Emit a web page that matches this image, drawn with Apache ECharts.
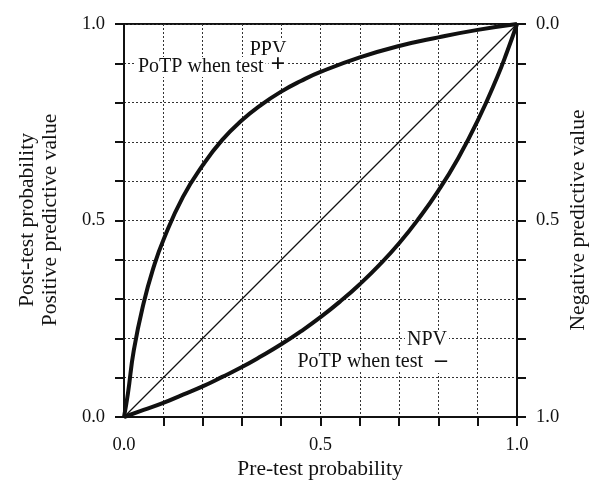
<!DOCTYPE html>
<html>
<head>
<meta charset="utf-8">
<script src="https://cdn.jsdelivr.net/npm/echarts@6/dist/echarts.min.js"></script>
<style>
  html, body { margin: 0; padding: 0; background: #fff; }
  #chart { width: 592px; height: 484px; }
</style>
</head>
<body>
<div id="chart"></div>
<script>
// pre-test probability vs post-test probability
const ppvPre = [0, 0.01, 0.025, 0.05, 0.075, 0.1, 0.15, 0.2, 0.25, 0.3, 0.35, 0.4, 0.45, 0.5, 0.6, 0.7, 0.8, 0.9, 1.0];
const ppvPost = [0, 0.06, 0.17, 0.29, 0.38, 0.45, 0.56, 0.64, 0.705, 0.755, 0.795, 0.828, 0.855, 0.878, 0.915, 0.944, 0.966, 0.985, 1.0];

const npvPre = [0, 0.05, 0.1, 0.15, 0.2, 0.25, 0.3, 0.35, 0.4, 0.45, 0.5, 0.55, 0.6, 0.65, 0.7, 0.75, 0.8, 0.85, 0.9, 0.95, 0.975, 1.0];
const npvPost = [0, 0.018, 0.036, 0.057, 0.078, 0.102, 0.127, 0.155, 0.185, 0.218, 0.254, 0.294, 0.338, 0.387, 0.442, 0.505, 0.576, 0.658, 0.754, 0.866, 0.93, 1.0];

const diagonal = [[0, 0], [1, 1]];

const tickValues = [0.1, 0.2, 0.3, 0.4, 0.5, 0.6, 0.7, 0.8, 0.9, 1.0];
const allTicks = [0, 0.1, 0.2, 0.3, 0.4, 0.5, 0.6, 0.7, 0.8, 0.9, 1.0];
const labelValues = [0, 0.5, 1.0];

const FONT = '"Liberation Serif", "DejaVu Serif", serif';
const INK = '#111';

const zip = (xs, ys) => xs.map((x, i) => [x, ys[i]]);

const axisBase = {
    type: 'value',
    min: 0,
    max: 1,
    interval: 0.1,
    axisLine: { show: true, lineStyle: { color: INK, width: 2 } },
    axisTick: { show: true, inside: false, length: 9, lineStyle: { color: INK, width: 2 } },
    axisLabel: {
        customValues: labelValues,
        formatter: v => v.toFixed(1),
        color: INK,
        fontFamily: FONT,
        fontSize: 18.5,
        margin: 19,
    },
    splitLine: { show: true, lineStyle: { color: '#333', width: 1, type: [2, 2] } },
};

const text = (x, y, str, opts = {}) => ({
    type: 'text',
    x, y,
    rotation: opts.rotation || 0,
    z: 100,
    style: {
        text: str,
        fill: INK,
        font: `${opts.weight || 'normal'} ${opts.size || 20}px ${FONT}`,
        align: opts.align || 'center',
        verticalAlign: 'middle',
        backgroundColor: opts.bg ? '#fff' : null,
        padding: opts.bg ? [0, 2] : 0,
    },
});

const curve = data => ({
    type: 'line',
    data,
    symbol: 'none',
    smooth: true,
    lineStyle: { color: INK, width: 4 },
});

const chart = echarts.init(document.getElementById('chart'));

chart.setOption({
    animation: false,
    backgroundColor: '#fff',
    grid: { left: 124, right: 75, top: 24, bottom: 67, show: true, borderColor: INK, borderWidth: 2 },
    xAxis: [{
        ...axisBase,
        position: 'bottom',
        axisTick: { ...axisBase.axisTick, customValues: tickValues },
    }],
    yAxis: [{
        ...axisBase,
        position: 'left',
        axisTick: { ...axisBase.axisTick, customValues: allTicks },
    }, {
        ...axisBase,
        position: 'right',
        inverse: true,
        axisTick: { ...axisBase.axisTick, customValues: allTicks },
        splitLine: { show: false },
    }],
    series: [{
        type: 'line',
        data: diagonal,
        symbol: 'none',
        lineStyle: { color: INK, width: 1.2 },
    },
        curve(zip(ppvPre, ppvPost)),
        curve(zip(npvPre, npvPost)),
    ],
    graphic: [
        text(268, 50, 'PPV', { bg: true }),
        text(136, 67, 'PoTP when test', { align: 'left', bg: true }),
        text(278, 65, '+', { size: 26, weight: 'bold', bg: true }),
        text(427, 340, 'NPV', { bg: true }),
        text(425, 362, 'PoTP when test', { align: 'right', bg: true }),
        text(441, 361, '\u2013', { size: 24, weight: 'bold', bg: true }),
        text(320, 469, 'Pre-test probability', { size: 21.5 }),
        text(27, 220, 'Post-test probability', { size: 21.5, rotation: Math.PI / 2 }),
        text(50, 220, 'Positive predictive value', { size: 21.5, rotation: Math.PI / 2 }),
        text(578, 220, 'Negative predictive value', { size: 21.5, rotation: Math.PI / 2 }),
    ],
});
</script>
</body>
</html>
